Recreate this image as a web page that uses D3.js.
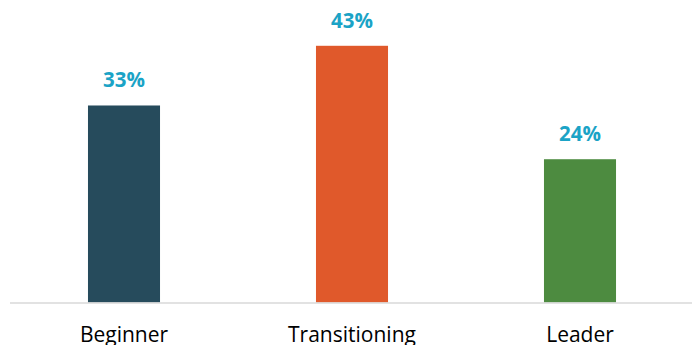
<!DOCTYPE html>
<html><head><meta charset="utf-8">
<script src="https://cdn.jsdelivr.net/npm/d3@7"></script>
<style>html,body{margin:0;padding:0;background:#fff;}</style>
</head><body><svg id="c" width="692" height="345"></svg>
<script>
const categories = ["Beginner", "Transitioning", "Leader"];
const values = [0.33, 0.43, 0.24];
const colors = ["#264b5c", "#e0592b", "#4d8b40"];

const svg = d3.select("#c");
const x = d3.scaleBand().domain(categories).range([10, 694]).paddingInner(0.684).paddingOuter(0.342);
const y = d3.scaleLinear().domain([0, 0.5]).range([302.5, 4]);

svg.selectAll("rect.bar").data(values).join("rect")
  .attr("class","bar")
  .attr("x", (d,i) => x(categories[i]))
  .attr("width", x.bandwidth())
  .attr("y", d => y(d))
  .attr("height", d => y(0) - y(d))
  .attr("fill", (d,i) => colors[i]);

svg.append("line").attr("x1", 10).attr("x2", 692).attr("y1", y(0)+0.5).attr("y2", y(0)+0.5)
  .attr("stroke", "#d9d9d9").attr("stroke-width", 1.3);

svg.selectAll("text.val").data(values).join("text")
  .attr("class","val")
  .attr("x", (d,i) => x(categories[i]) + x.bandwidth()/2)
  .attr("y", d => y(d) - 18)
  .attr("text-anchor","middle")
  .attr("font-family","'Open Sans', sans-serif")
  .attr("font-weight","bold")
  .attr("font-size", 20.5)
  .attr("fill","#1ba3c6")
  .text(d => d3.format(".0%")(d));

svg.selectAll("text.cat").data(categories).join("text")
  .attr("class","cat")
  .attr("x", d => x(d) + x.bandwidth()/2)
  .attr("y", 342)
  .attr("text-anchor","middle")
  .attr("font-family","'Open Sans', sans-serif")
  .attr("font-size", 21)
  .attr("fill","#000")
  .text(d => d);
</script></body></html>
